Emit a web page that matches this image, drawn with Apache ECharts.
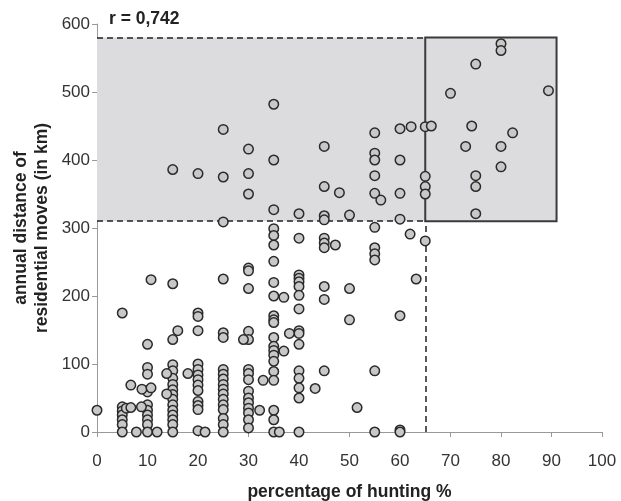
<!DOCTYPE html>
<html>
<head>
<meta charset="utf-8">
<script src="https://cdn.jsdelivr.net/npm/echarts@6/dist/echarts.min.js"></script>
<style>html,body{margin:0;padding:0;background:#fff}#c{width:621px;height:501px}</style>
</head>
<body>
<div id="c"></div>
<script>
// Columns of points at regular hunting percentages
const columnX = [0, 5, 10, 15, 20, 25, 30, 35, 40, 45, 50, 55, 60, 65, 75, 80];
const columnY = [
  [32],
  [175, 37, 31, 25, 18, 11, 0],
  [129, 95, 85, 59, 40, 32, 25, 18, 11, 0],
  [386, 218, 136, 99, 90, 79, 70, 62, 55, 48, 40, 32, 25, 18, 11, 0],
  [380, 175, 170, 149, 100, 92, 84, 77, 69, 61, 45, 39, 33, 2],
  [445, 375, 309, 225, 146, 139, 92, 85, 78, 70, 63, 56, 48, 40, 33, 20, 11, 0],
  [416, 380, 350, 241, 237, 211, 148, 136, 92, 86, 77, 60, 50, 43, 35, 28, 18, 6],
  [482, 400, 327, 299, 289, 275, 251, 220, 200, 171, 165, 161, 139, 126, 120, 113, 104, 89, 76, 32, 18, 0],
  [321, 285, 231, 226, 221, 214, 201, 181, 149, 145, 129, 90, 79, 65, 50, 0],
  [420, 361, 318, 312, 285, 278, 271, 214, 195, 90],
  [319, 211, 165],
  [440, 410, 400, 377, 351, 301, 271, 262, 253, 90, 0],
  [446, 400, 351, 313, 171, 3, 0],
  [449, 376, 361, 350, 281],
  [541, 377, 361, 321],
  [571, 561, 420, 390]
];
// Scattered individual points
const extraX = [5.8, 6.7, 6.7, 7.8, 8.8, 8.9, 10.7, 10.7, 11.9, 16, 13.8, 13.8, 18, 21.4, 29, 32.2, 32.9, 36.1, 37, 37, 38.1, 43.2, 47.2, 48, 51.5, 56.2, 62.2, 62, 63.2, 66.2, 70, 73, 74.2, 82.3, 89.4];
const extraY = [35, 36, 69, 0, 37, 63, 65, 224, 0, 149, 86, 56, 86, 0, 136, 32, 76, 0, 198, 119, 145, 64, 275, 352, 36, 341, 449, 291, 225, 450, 498, 420, 450, 440, 502];

// Threshold zones
const highDistance = [310, 580];
const highHunting = [65, 91];
const corrLabel = 'r = 0,742';
const xTitle = 'percentage of hunting %';
const yTitle = 'annual distance of\nresidential moves (in km)';

const points = [];
columnX.forEach((x, i) => columnY[i].forEach(y => points.push([x, y])));
extraX.forEach((x, i) => points.push([x, extraY[i]]));

const chart = echarts.init(document.getElementById('c'));
const font = 'Liberation Sans, Arial, sans-serif';
chart.setOption({
  animation: false,
  textStyle: { fontFamily: font },
  title: {
    text: corrLabel, left: 104, top: 5,
    textStyle: { fontSize: 17.5, fontWeight: 'bold', color: '#222', fontFamily: font }
  },
  grid: { left: 97, right: 19, top: 24, bottom: 69, outerBoundsMode: 'none', containLabel: false },
  xAxis: {
    type: 'value', min: 0, max: 100, interval: 10,
    axisLine: { show: true, lineStyle: { color: '#999', width: 1 } },
    axisTick: { show: true, length: 5, lineStyle: { color: '#999' } },
    axisLabel: { fontSize: 17, color: '#333', margin: 21, fontFamily: font },
    splitLine: { show: false },
    name: xTitle, nameLocation: 'middle', nameGap: 51, nameMoveOverlap: false,
    nameTextStyle: { fontSize: 17.5, fontWeight: 'bold', color: '#222', fontFamily: font }
  },
  yAxis: {
    type: 'value', min: 0, max: 600, interval: 100,
    axisLine: { show: true, lineStyle: { color: '#999', width: 1 } },
    axisTick: { show: true, length: 5, lineStyle: { color: '#999' } },
    axisLabel: { fontSize: 17, color: '#333', margin: 7, fontFamily: font },
    splitLine: { show: false },
    name: yTitle, nameLocation: 'middle', nameGap: 44, nameRotate: 90, nameMoveOverlap: false,
    nameTextStyle: { fontSize: 17.5, fontWeight: 'bold', color: '#222', lineHeight: 21, fontFamily: font }
  },
  series: [
    {
      type: 'line', data: [], z: 1, silent: true,
      markArea: {
        silent: true,
        itemStyle: { color: '#dcdcdf' },
        data: [[{ coord: [0, highDistance[0]] }, { coord: [highHunting[1], highDistance[1]] }]]
      }
    },
    {
      type: 'line', data: [], z: 2, silent: true,
      markArea: {
        silent: true,
        itemStyle: { color: 'rgba(0,0,0,0)', borderColor: '#3a3a3a', borderWidth: 2 },
        data: [[{ coord: [highHunting[0], highDistance[0]] }, { coord: [highHunting[1], highDistance[1]] }]]
      },
      markLine: {
        silent: true, symbol: ['none', 'none'],
        label: { show: false },
        lineStyle: { color: '#222', width: 1.5, type: [6, 4] },
        data: [
          [{ coord: [0, highDistance[1]] }, { coord: [highHunting[0], highDistance[1]] }],
          [{ coord: [0, highDistance[0]] }, { coord: [highHunting[0], highDistance[0]] }],
          [{ coord: [highHunting[0], 0] }, { coord: [highHunting[0], highDistance[0]] }]
        ]
      }
    },
    {
      type: 'scatter', z: 10, data: points, symbolSize: 9.5,
      itemStyle: { color: '#c8c8c8', borderColor: '#2a2a2a', borderWidth: 1.5, opacity: 1 }
    }
  ]
});
</script>
</body>
</html>
